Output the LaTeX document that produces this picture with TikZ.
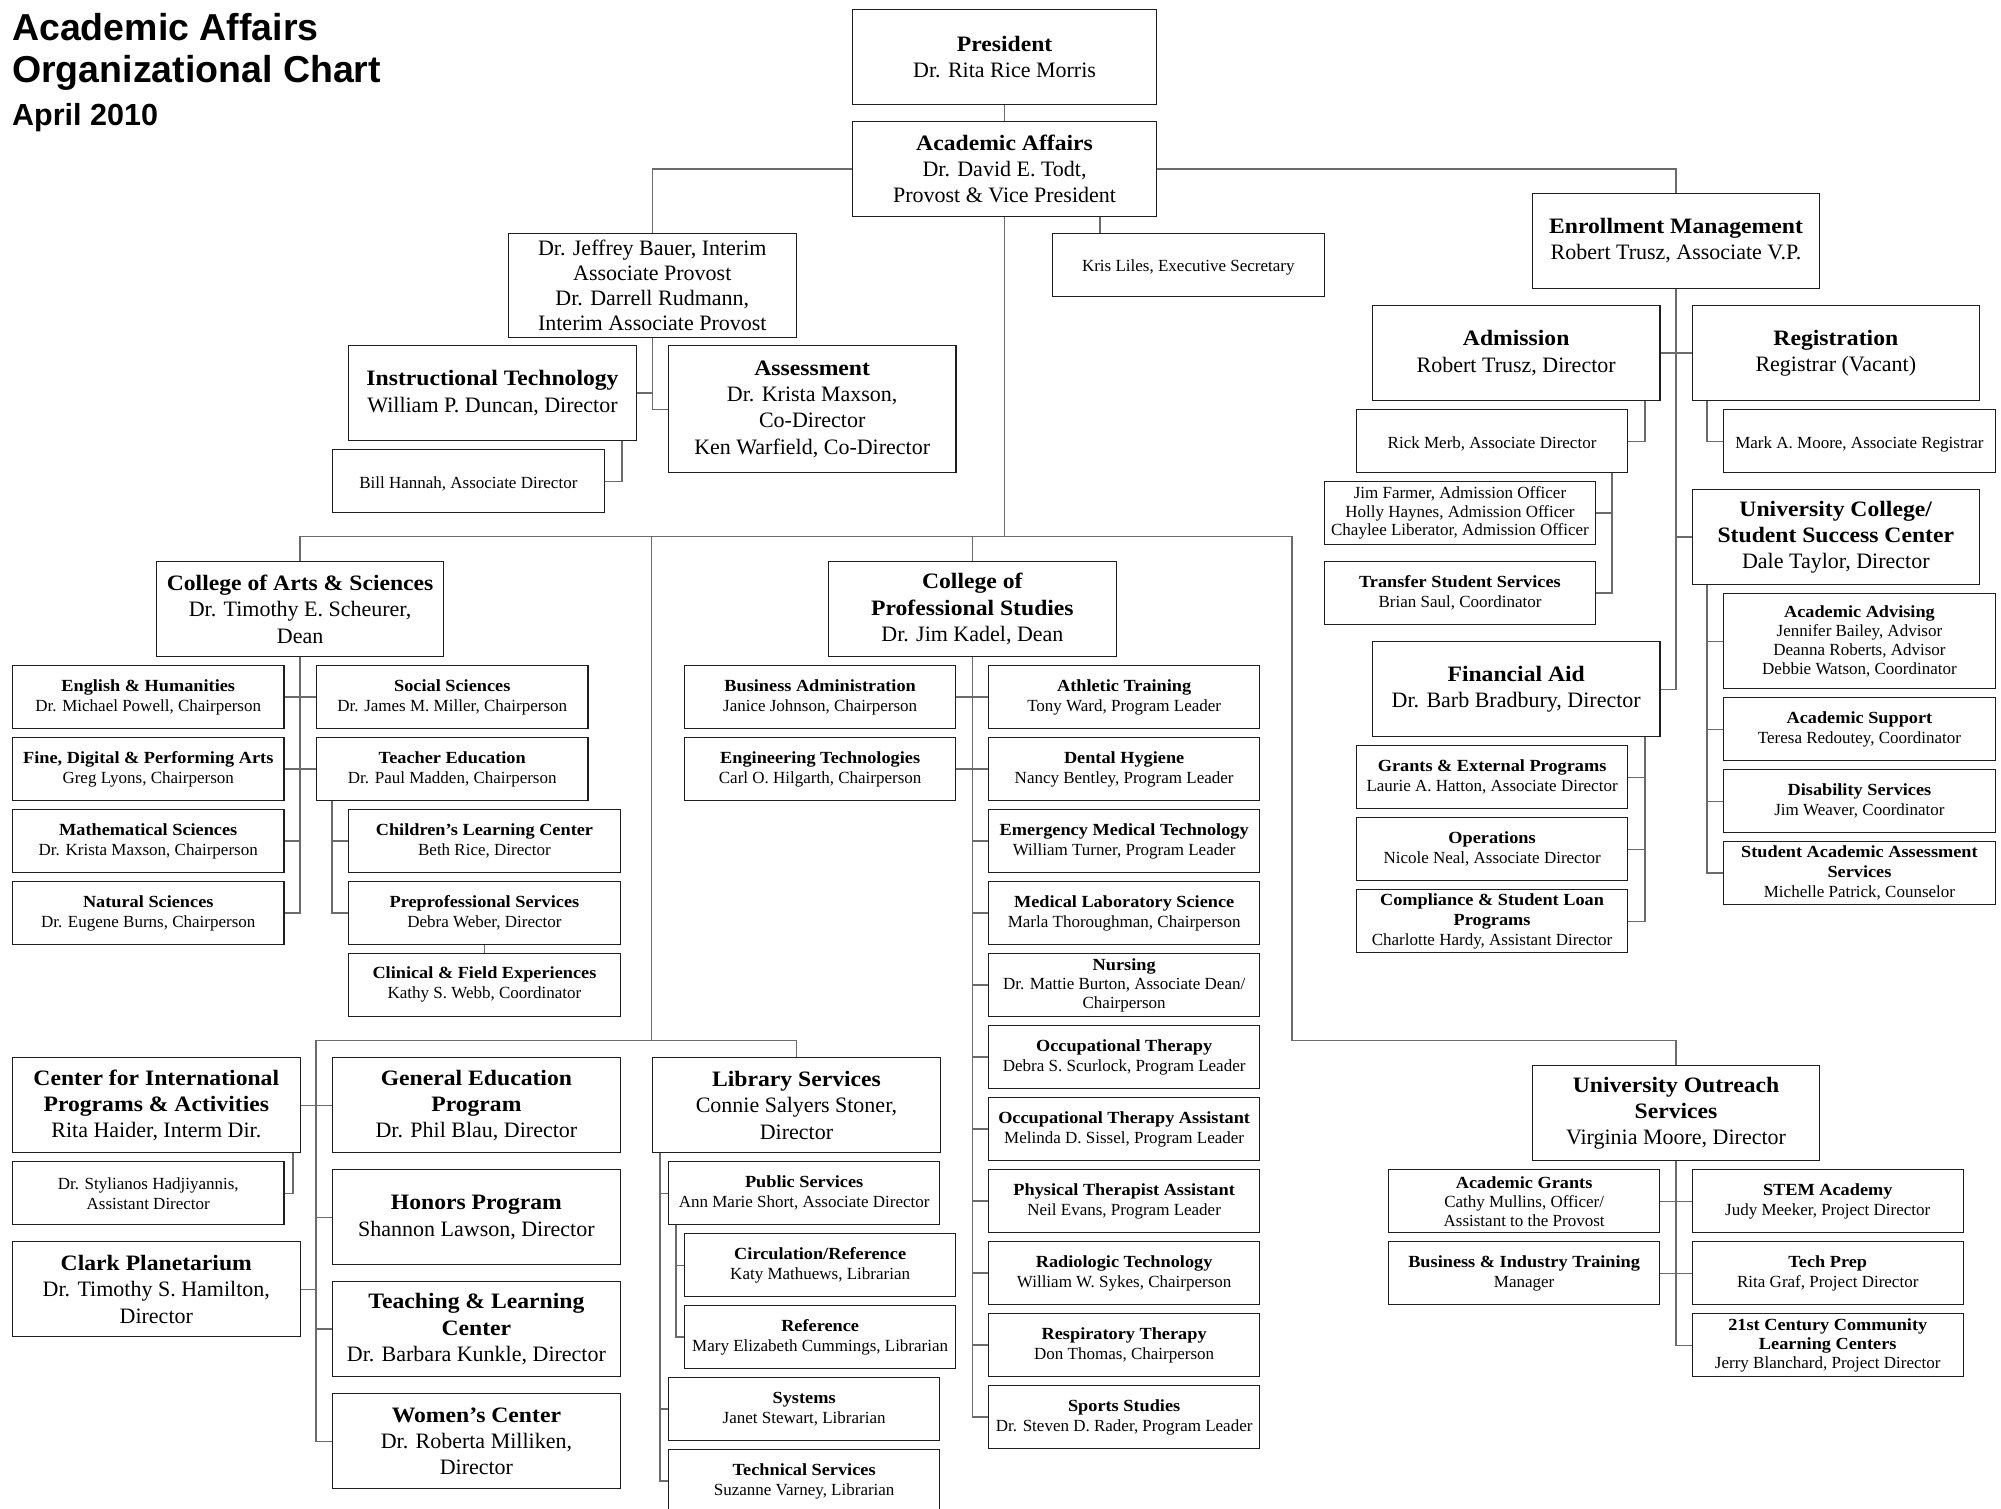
\documentclass[tikz,border=0pt]{standalone}
\usepackage{fontspec}
\setmainfont{Liberation Serif}[BoldFeatures={FakeStretch=1.075}]
\newfontfamily\titleFont{Liberation Sans}
\tikzstyle{unitBox}=[draw=black!88,line width=1.1pt,anchor=north west,align=center,inner sep=0pt,minimum width=287.5pt,minimum height=95pt,font=\fontsize{22}{26.3}\selectfont]
\tikzstyle{staffBox}=[unitBox,minimum width=271.4pt,minimum height=63pt,font=\fontsize{17}{20}\selectfont,execute at begin node={\rule{0pt}{1em}}]
\tikzstyle{link}=[draw=black!58,line width=1.4pt]
\tikzstyle{chartTitle}=[anchor=base west,inner sep=0pt,font=\titleFont\bfseries]

\begin{document}
\begin{tikzpicture}[x=1pt,y=-1pt]

    \useasboundingbox (0,0) rectangle (2001,1508);

    % title
    \node[chartTitle,font=\titleFont\bfseries\fontsize{37.5}{40}\selectfont] (title1) at (12,40.5) {Academic Affairs};
    \node[chartTitle,font=\titleFont\bfseries\fontsize{37.5}{40}\selectfont] (title2) at (12,82) {Organizational Chart};
    \node[chartTitle,font=\titleFont\bfseries\fontsize{30.5}{33}\selectfont] (title3) at (12,125) {April 2010};

    % top of the chart
    \node[unitBox,minimum width=303.6pt] (pres) at (852.2,9) {\textbf{President}\\Dr. Rita Rice Morris};
    \node[unitBox,minimum width=303.6pt] (aa) at (852.2,121) {\textbf{Academic Affairs}\\Dr. David E. Todt,\\Provost \& Vice President};
    \node[unitBox,minimum height=104pt,font=\fontsize{22}{25}\selectfont] (bauer) at (508,233) {Dr. Jeffrey Bauer, Interim\\Associate Provost\\Dr. Darrell Rudmann,\\Interim Associate Provost};
    \node[staffBox,minimum width=271.8pt] (kris) at (1051.8,233) {Kris Liles, Executive Secretary};
    \node[unitBox] (instr) at (348.2,345) {\textbf{Instructional Technology}\\William P. Duncan, Director};
    \node[unitBox,minimum height=127.3pt] (assess) at (667.9,345) {\textbf{Assessment}\\Dr. Krista Maxson,\\Co-Director\\Ken Warfield, Co-Director};
    \node[staffBox] (bill) at (332.1,449.3) {Bill Hannah, Associate Director};

    % enrollment management
    \node[unitBox] (enroll) at (1531.7,192.7) {\textbf{Enrollment Management}\\Robert Trusz, Associate V.P.};
    \node[unitBox] (adm) at (1371.9,305) {\textbf{Admission}\\Robert Trusz, Director};
    \node[unitBox] (reg) at (1691.5,305) {\textbf{Registration}\\Registrar (Vacant)};
    \node[staffBox] (rick) at (1355.8,409.3) {Rick Merb, Associate Director};
    \node[staffBox] (mark) at (1723.2,409.3) {Mark A. Moore, Associate Registrar};
    \node[staffBox,font=\fontsize{17}{18.5}\selectfont] (officers) at (1323.7,481) {Jim Farmer, Admission Officer\\Holly Haynes, Admission Officer\\Chaylee Liberator, Admission Officer};
    \node[staffBox] (transfer) at (1323.7,561) {\textbf{Transfer Student Services}\\Brian Saul, Coordinator};
    \node[unitBox] (ucol) at (1691.5,489) {\textbf{University College/}\\\textbf{Student Success Center}\\Dale Taylor, Director};
    \node[staffBox,minimum height=95pt,font=\fontsize{17}{19}\selectfont] (advise) at (1723.2,593.3) {\textbf{Academic Advising}\\Jennifer Bailey, Advisor\\Deanna Roberts, Advisor\\Debbie Watson, Coordinator};
    \node[staffBox] (support) at (1723.2,697.3) {\textbf{Academic Support}\\Teresa Redoutey, Coordinator};
    \node[staffBox] (disab) at (1723.2,769.3) {\textbf{Disability Services}\\Jim Weaver, Coordinator};
    \node[staffBox] (saas) at (1723.2,841) {\textbf{Student Academic Assessment}\\\textbf{Services}\\Michelle Patrick, Counselor};
    \node[unitBox] (finaid) at (1371.9,641.3) {\textbf{Financial Aid}\\Dr. Barb Bradbury, Director};
    \node[staffBox] (grants) at (1355.8,745.3) {\textbf{Grants \& External Programs}\\Laurie A. Hatton, Associate Director};
    \node[staffBox] (ops) at (1355.8,817.3) {\textbf{Operations}\\Nicole Neal, Associate Director};
    \node[staffBox] (loans) at (1355.8,889.3) {\textbf{Compliance \& Student Loan}\\\textbf{Programs}\\Charlotte Hardy, Assistant Director};

    % college of arts & sciences
    \node[unitBox] (cas) at (155.8,561) {\textbf{College of Arts \& Sciences}\\Dr. Timothy E. Scheurer,\\Dean};
    \node[staffBox] (engl) at (12,665) {\textbf{English \& Humanities}\\Dr. Michael Powell, Chairperson};
    \node[staffBox] (fine) at (12,737) {\textbf{Fine, Digital \& Performing Arts}\\Greg Lyons, Chairperson};
    \node[staffBox] (math) at (12,809) {\textbf{Mathematical Sciences}\\Dr. Krista Maxson, Chairperson};
    \node[staffBox] (natsci) at (12,881) {\textbf{Natural Sciences}\\Dr. Eugene Burns, Chairperson};
    \node[staffBox] (socsci) at (316,665) {\textbf{Social Sciences}\\Dr. James M. Miller, Chairperson};
    \node[staffBox] (teached) at (316,737) {\textbf{Teacher Education}\\Dr. Paul Madden, Chairperson};
    \node[staffBox] (clc) at (348.2,809) {\textbf{Children's Learning Center}\\Beth Rice, Director};
    \node[staffBox] (preprof) at (348.2,881) {\textbf{Preprofessional Services}\\Debra Weber, Director};
    \node[staffBox] (clinical) at (348.2,952.7) {\textbf{Clinical \& Field Experiences}\\Kathy S. Webb, Coordinator};

    % college of professional studies
    \node[unitBox] (cps) at (828.1,561) {\textbf{College of}\\\textbf{Professional Studies}\\Dr. Jim Kadel, Dean};
    \node[staffBox] (busadm) at (683.9,665) {\textbf{Business Administration}\\Janice Johnson, Chairperson};
    \node[staffBox] (engtech) at (683.9,737) {\textbf{Engineering Technologies}\\Carl O. Hilgarth, Chairperson};
    \node[staffBox] (athl) at (987.9,665) {\textbf{Athletic Training}\\Tony Ward, Program Leader};
    \node[staffBox] (dental) at (987.9,737) {\textbf{Dental Hygiene}\\Nancy Bentley, Program Leader};
    \node[staffBox] (emt) at (987.9,809) {\textbf{Emergency Medical Technology}\\William Turner, Program Leader};
    \node[staffBox] (medlab) at (987.9,881) {\textbf{Medical Laboratory Science}\\Marla Thoroughman, Chairperson};
    \node[staffBox,font=\fontsize{17}{19}\selectfont] (nursing) at (987.9,953) {\textbf{Nursing}\\Dr. Mattie Burton, Associate Dean/\\Chairperson};
    \node[staffBox] (occther) at (987.9,1025) {\textbf{Occupational Therapy}\\Debra S. Scurlock, Program Leader};
    \node[staffBox] (ota) at (987.9,1097) {\textbf{Occupational Therapy Assistant}\\Melinda D. Sissel, Program Leader};
    \node[staffBox] (pta) at (987.9,1169) {\textbf{Physical Therapist Assistant}\\Neil Evans, Program Leader};
    \node[staffBox] (radio) at (987.9,1241) {\textbf{Radiologic Technology}\\William W. Sykes, Chairperson};
    \node[staffBox] (resp) at (987.9,1313) {\textbf{Respiratory Therapy}\\Don Thomas, Chairperson};
    \node[staffBox] (sports) at (987.9,1385) {\textbf{Sports Studies}\\Dr. Steven D. Rader, Program Leader};

    % centers and programs
    \node[unitBox] (cipa) at (12,1057.3) {\textbf{Center for International}\\\textbf{Programs \& Activities}\\Rita Haider, Interm Dir.};
    \node[staffBox] (hadji) at (12,1161.3) {Dr. Stylianos Hadjiyannis,\\Assistant Director};
    \node[unitBox] (clark) at (12,1241.3) {\textbf{Clark Planetarium}\\Dr. Timothy S. Hamilton,\\Director};
    \node[unitBox] (gened) at (332.1,1057.3) {\textbf{General Education}\\\textbf{Program}\\Dr. Phil Blau, Director};
    \node[unitBox] (honors) at (332.1,1169.3) {\textbf{Honors Program}\\Shannon Lawson, Director};
    \node[unitBox] (teachlearn) at (332.1,1281) {\textbf{Teaching \& Learning}\\\textbf{Center}\\Dr. Barbara Kunkle, Director};
    \node[unitBox] (women) at (332.1,1393.3) {\textbf{Women's Center}\\Dr. Roberta Milliken,\\Director};

    % library
    \node[unitBox] (lib) at (652.2,1057.3) {\textbf{Library Services}\\Connie Salyers Stoner,\\Director};
    \node[staffBox] (pubserv) at (667.9,1161.3) {\textbf{Public Services}\\Ann Marie Short, Associate Director};
    \node[staffBox] (circ) at (683.9,1233.3) {\textbf{Circulation/Reference}\\Katy Mathuews, Librarian};
    \node[staffBox] (refer) at (683.9,1305) {\textbf{Reference}\\Mary Elizabeth Cummings, Librarian};
    \node[staffBox] (systems) at (667.9,1377) {\textbf{Systems}\\Janet Stewart, Librarian};
    \node[staffBox] (techserv) at (667.9,1449) {\textbf{Technical Services}\\Suzanne Varney, Librarian};

    % university outreach
    \node[unitBox] (outreach) at (1531.7,1065.3) {\textbf{University Outreach}\\\textbf{Services}\\Virginia Moore, Director};
    \node[staffBox,font=\fontsize{17}{19}\selectfont] (acgrants) at (1387.9,1169.3) {\textbf{Academic Grants}\\Cathy Mullins, Officer/\\Assistant to the Provost};
    \node[staffBox] (bitrain) at (1387.9,1241.3) {\textbf{Business \& Industry Training}\\Manager};
    \node[staffBox] (stem) at (1691.5,1169.3) {\textbf{STEM Academy}\\Judy Meeker, Project Director};
    \node[staffBox] (techprep) at (1691.5,1241.3) {\textbf{Tech Prep}\\Rita Graf, Project Director};
    \node[staffBox,font=\fontsize{17}{19}\selectfont] (cclc) at (1691.5,1313.3) {\textbf{21st Century Community}\\\textbf{Learning Centers}\\Jerry Blanchard, Project Director};

    % junction points
    \coordinate (collegeBar) at (1292,536.7);
    \coordinate (outreachBend) at (1292,1040.7);
    \coordinate (lowerBar) at (651.7,1040.7);
    \coordinate (centerTrunk) at (316,1040.7);

    % top connectors
    \draw[link] (pres) -- (aa);
    \draw[link] (aa.west) -| (bauer.north);
    \draw[link] (aa.east) -| (enroll.north);
    \draw[link] ([xshift=95.5pt]aa.south) -- ([xshift=95.5pt]aa.south |- kris.north);
    \draw[link] (bauer.south) |- (assess.west);
    \draw[link] (instr.east) -- (instr.east -| bauer.south);
    \draw[link] ([xshift=-15pt]instr.south east) |- (bill.east);

    % enrollment connectors
    \draw[link] (enroll.south) |- (finaid.east);
    \draw[link] (adm.east) -- (reg.west);
    \draw[link] (enroll.south |- ucol.west) -- (ucol.west);
    \draw[link] ([xshift=-15.6pt]adm.south east) |- (rick.east);
    \draw[link] ([xshift=15.5pt]reg.south west) |- (mark.west);
    \draw[link] ([xshift=-16.2pt]rick.south east) |- (officers.east);
    \draw[link] ([xshift=-16.2pt]rick.south east) |- (transfer.east);
    \foreach \unit in {grants,ops,loans}
        \draw[link] ([xshift=-15.6pt]finaid.south east) |- (\unit.east);
    \foreach \unit in {advise,support,disab,saas}
        \draw[link] ([xshift=15.5pt]ucol.south west) |- (\unit.west);

    % colleges
    \draw[link] (aa.south) -- (aa.south |- collegeBar);
    \draw[link] (cas.north) |- (collegeBar) -- (outreachBend) -| (outreach.north);
    \draw[link] (cps.north) -- (cps.north |- collegeBar);
    \draw[link] (lowerBar |- collegeBar) -- (lowerBar) -| (lib.north);
    \draw[link] (lowerBar) -- (centerTrunk) |- (women.west);

    \draw[link] (cas.south) |- (natsci.east);
    \draw[link] (cas.south) |- (math.east);
    \draw[link] (engl.east) -- (socsci.west);
    \draw[link] (fine.east) -- (teached.west);
    \draw[link] ([xshift=16.1pt]teached.south west) |- (clc.west);
    \draw[link] ([xshift=16.1pt]teached.south west) |- (preprof.west);
    \draw[link] (preprof) -- (clinical);

    \draw[link] (cps.south) |- (sports.west);
    \draw[link] (busadm.east) -- (athl.west);
    \draw[link] (engtech.east) -- (dental.west);
    \foreach \unit in {emt,medlab,nursing,occther,ota,pta,radio,resp}
        \draw[link] (cps.south |- \unit.west) -- (\unit.west);

    % centers and programs
    \draw[link] (cipa.east) -- (gened.west);
    \draw[link] (centerTrunk |- honors.west) -- (honors.west);
    \draw[link] (clark.east) -- (centerTrunk |- clark.east);
    \draw[link] (centerTrunk |- teachlearn.west) -- (teachlearn.west);
    \draw[link] ([xshift=-7.5pt]cipa.south east) |- (hadji.east);

    % library
    \foreach \unit in {pubserv,systems,techserv}
        \draw[link] ([xshift=7.6pt]lib.south west) |- (\unit.west);
    \foreach \unit in {circ,refer}
        \draw[link] ([xshift=8pt]pubserv.south west) |- (\unit.west);

    % outreach
    \draw[link] (outreach.south) |- (cclc.west);
    \draw[link] (acgrants.east) -- (stem.west);
    \draw[link] (bitrain.east) -- (techprep.west);

\end{tikzpicture}
\end{document}
